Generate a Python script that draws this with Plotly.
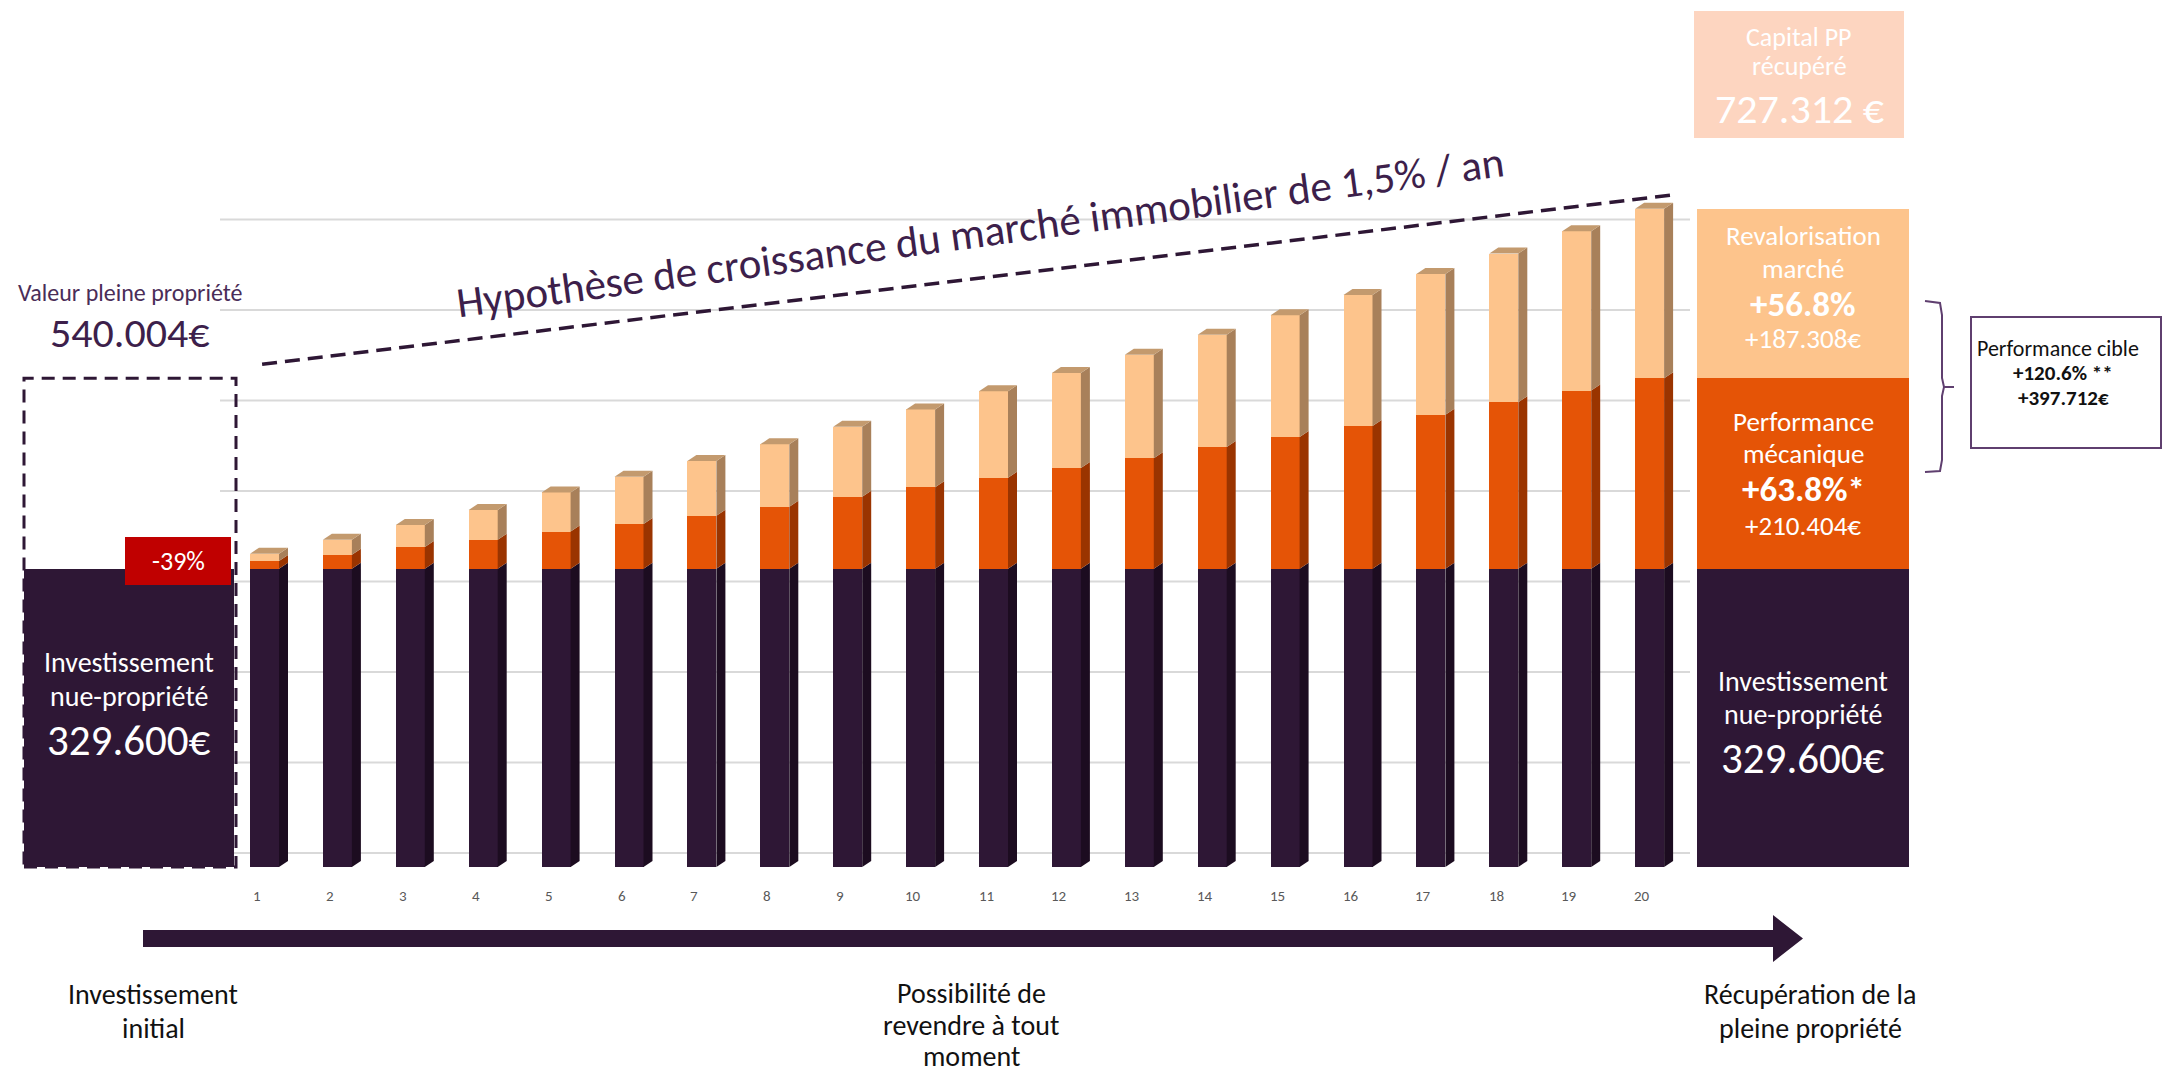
import plotly.graph_objects as go

# ---------------- data ----------------
years = list(range(1, 21))
year_labels = [str(y) for y in years]
invest_np = [329600] * 20
perf_meca = [8500, 15400, 23900, 31900, 41000, 49500, 58600, 68500, 79500, 89900,
             100400, 111400, 122100, 134500, 145500, 157600, 170200, 184000, 196900, 210404]
reval_marche = [8000, 16500, 24500, 33000, 43300, 52000, 60500, 69000, 77400, 86100,
                95700, 104900, 114400, 124000, 134600, 144900, 155400, 164300, 176000, 187308]
invest_initial = 329600
valeur_pp_initiale = 540004
capital_pp_final = 727312
gridline_values = [0, 100000, 200000, 300000, 400000, 500000, 600000, 700000]

# ---------------- styles / geometry ----------------
W, H = 2175, 1073
X0_PX, UX = 257.0, 72.9        # pixel of x=1, pixels per category
Y0_PX, KY = 867.0, 1105.0      # pixel of value 0, euros per pixel
FONT = "Carlito, Calibri, Lato, sans-serif"

DARK, DARK_SIDE = "#2e1735", "#1c0c20"
ORANGE, ORANGE_SIDE = "#e55406", "#9a3400"
LIGHT, LIGHT_SIDE, LIGHT_CAP = "#fdc48c", "#a8805a", "#c39a6e"
PEACH = "#fdd5c0"
RED = "#c00000"
PURPLE = "#3d1f4b"
GRID = "#d9d9d9"

BW = 29 / UX          # bar front width
BOFF = -7 / UX        # bar left edge relative to tick
DX = 9 / UX           # 3D depth (x)
DY = 6 * KY           # 3D depth (y)
WALL = 14 * KY        # back-wall offset


def px2x(px):
    return 1 + (px - X0_PX) / UX


def pxp(px):
    return px / W


def pyp(py):
    return 1 - py / H


fig = go.Figure()

# left box (investment) as a bar
LB_X0, LB_X1 = 24, 234
fig.add_trace(go.Bar(x=[px2x((LB_X0 + LB_X1) / 2)], y=[invest_initial], base=[0],
                     width=[(LB_X1 - LB_X0) / UX], marker=dict(color=DARK, line=dict(width=0)),
                     hoverinfo="skip"))

# yearly stacked bars
base_or = [a for a in invest_np]
base_li = [a + b for a, b in zip(invest_np, perf_meca)]
for vals, bases, col in [(invest_np, [0] * 20, DARK), (perf_meca, base_or, ORANGE),
                         (reval_marche, base_li, LIGHT)]:
    fig.add_trace(go.Bar(x=years, y=vals, base=bases, width=BW, offset=BOFF,
                         marker=dict(color=col, line=dict(width=0)), hoverinfo="skip"))

# right box (final decomposition) as stacked bars
RB_X0, RB_X1 = 1697, 1909
rb_x = px2x((RB_X0 + RB_X1) / 2)
rb_w = (RB_X1 - RB_X0) / UX
rb_vals = [invest_initial, perf_meca[-1], reval_marche[-1]]
rb_cols = [DARK, ORANGE, LIGHT]
acc = 0
for v, c in zip(rb_vals, rb_cols):
    fig.add_trace(go.Bar(x=[rb_x], y=[v], base=[acc], width=[rb_w],
                         marker=dict(color=c, line=dict(width=0)), hoverinfo="skip"))
    acc += v

shapes = []
# gridlines on back wall
for g in gridline_values:
    shapes.append(dict(type="line", xref="paper", yref="y", x0=pxp(220), x1=pxp(1690),
                       y0=g + WALL, y1=g + WALL, line=dict(color=GRID, width=2), layer="below"))

# 3D side faces and caps
for i, yr in enumerate(years):
    xl = yr + BOFF
    xr = xl + BW
    segs = [(0, invest_np[i], DARK_SIDE),
            (invest_np[i], base_li[i], ORANGE_SIDE),
            (base_li[i], base_li[i] + reval_marche[i], LIGHT_SIDE)]
    for y0, y1, col in segs:
        path = f"M{xr},{y0} L{xr + DX},{y0 + DY} L{xr + DX},{y1 + DY} L{xr},{y1} Z"
        shapes.append(dict(type="path", xref="x", yref="y", path=path, fillcolor=col,
                           line=dict(width=0), layer="above"))
    top = base_li[i] + reval_marche[i]
    path = f"M{xl},{top} L{xl + DX},{top + DY} L{xr + DX},{top + DY} L{xr},{top} Z"
    shapes.append(dict(type="path", xref="x", yref="y", path=path, fillcolor=LIGHT_CAP,
                       line=dict(width=0), layer="above"))

# dashed outline: full-ownership value
shapes.append(dict(type="rect", xref="x", yref="y", x0=px2x(LB_X0), x1=px2x(236),
                   y0=0, y1=valeur_pp_initiale,
                   line=dict(color=DARK, width=3, dash="13px,8px"), layer="above"))
# red -39% box
shapes.append(dict(type="rect", xref="paper", yref="paper", x0=pxp(125), x1=pxp(231),
                   y0=pyp(585), y1=pyp(537), fillcolor=RED, line=dict(width=0), layer="above"))
# capital PP box
shapes.append(dict(type="rect", xref="paper", yref="paper", x0=pxp(1694), x1=pxp(1904),
                   y0=pyp(138), y1=pyp(11), fillcolor=PEACH, line=dict(width=0)))
# performance cible box
shapes.append(dict(type="rect", xref="paper", yref="paper", x0=pxp(1971), x1=pxp(2161),
                   y0=pyp(448), y1=pyp(317), fillcolor="white",
                   line=dict(color="#5f3f6f", width=2)))
# brace
bp = [(1925, 301), (1940, 303), (1942, 315), (1942, 378), (1944, 387), (1954, 387),
      (1944, 387), (1942, 396), (1942, 460), (1940, 471), (1925, 472)]
path = "M" + " L".join(f"{pxp(a)},{pyp(b)}" for a, b in bp)
shapes.append(dict(type="path", xref="paper", yref="paper", path=path,
                   line=dict(color="#5f3f6f", width=2)))
# timeline arrow
ap = [(143, 930), (1773, 930), (1773, 915), (1803, 938.5), (1773, 962), (1773, 947), (143, 947)]
path = "M" + " L".join(f"{pxp(a)},{pyp(b)}" for a, b in ap) + " Z"
shapes.append(dict(type="path", xref="paper", yref="paper", path=path, fillcolor=DARK,
                   line=dict(width=0)))

# dashed growth line
fig.add_trace(go.Scatter(x=[1 + 0.07, 20 + BOFF + BW + DX],
                         y=[valeur_pp_initiale + WALL, capital_pp_final + WALL],
                         mode="lines", line=dict(color=DARK, width=3.5, dash="15px,8px"),
                         hoverinfo="skip"))

ann = []


def txt(x, y, t, size, color="white", bold=False, xref="paper", angle=0):
    if bold:
        t = f"<b>{t}</b>"
    ann.append(dict(x=x if xref != "paper" else pxp(x), y=pyp(y), xref=xref, yref="paper",
                    text=t, showarrow=False, xanchor="center", yanchor="middle",
                    textangle=angle, font=dict(family=FONT, size=size, color=color)))


# year labels
for yr, lab in zip(years, year_labels):
    txt(yr, 896, lab, 15, "#595959", xref="x")

txt(980, 232, "Hypothèse de croissance du marché immobilier de 1,5% / an", 43, PURPLE, angle=-7.7)
txt(130, 292, "Valeur pleine propriété", 24, "#4a2d58")
txt(130, 332, "540.004€", 42, PURPLE)
txt(178, 561, "-39%", 26, "white")
txt(129, 662, "Investissement", 28)
txt(129, 696, "nue-propriété", 28)
txt(129, 740, "329.600€", 43)
txt(1803, 681, "Investissement", 28)
txt(1803, 714, "nue-propriété", 28)
txt(1803, 758, "329.600€", 43)
txt(1803, 421, "Performance", 27)
txt(1803, 453, "mécanique", 27)
txt(1803, 489, "+63.8%*", 35, bold=True)
txt(1803, 525, "+210.404€", 27)
txt(1803, 236, "Revalorisation", 27)
txt(1803, 268, "marché", 27)
txt(1803, 304, "+56.8%", 35, bold=True)
txt(1803, 338, "+187.308€", 27)
txt(1799, 37, "Capital PP", 26)
txt(1799, 66, "récupéré", 26)
txt(1799, 108, "727.312 €", 42)
txt(2058, 348, "Performance cible", 22, "#111111")
txt(2063, 373, "+120.6% **", 21, "#111111", bold=True)
txt(2063, 398, "+397.712€", 21, "#111111", bold=True)
txt(153, 994, "Investissement", 28, "#111111")
txt(153, 1028, "initial", 28, "#111111")
txt(971, 993, "Possibilité de", 28, "#111111")
txt(971, 1025, "revendre à tout", 28, "#111111")
txt(971, 1056, "moment", 28, "#111111")
txt(1810, 994, "Récupération de la", 28, "#111111")
txt(1810, 1028, "pleine propriété", 28, "#111111")

fig.update_layout(
    width=W, height=H, margin=dict(l=0, r=0, t=0, b=0),
    paper_bgcolor="white", plot_bgcolor="white", showlegend=False,
    barmode="overlay", bargap=0,
    xaxis=dict(range=[1 - X0_PX / UX, 1 + (W - X0_PX) / UX], visible=False, fixedrange=True),
    yaxis=dict(range=[-(H - Y0_PX) * KY, Y0_PX * KY], visible=False, fixedrange=True),
    shapes=shapes, annotations=ann,
)

fig.write_html("out.html", config={"displayModeBar": False},
               post_script="document.body.style.margin='0';document.body.style.overflow='hidden';")
